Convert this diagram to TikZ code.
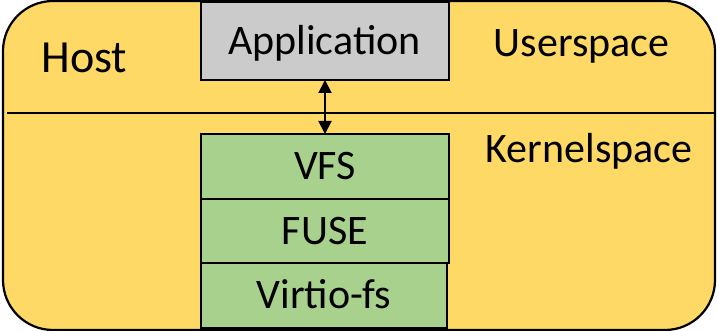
\documentclass[tikz,border=0pt]{standalone}
\usepackage{fontspec}
\setmainfont{Carlito}
\usetikzlibrary{arrows.meta}
\definecolor{hostyellow}{HTML}{FFD966}
\definecolor{appgray}{HTML}{CBCBCB}
\definecolor{layergreen}{HTML}{A9D18E}
\tikzset{
  layer/.style={draw=black, line width=2pt, fill=layergreen},
  lbl/.style={anchor=base, inner sep=0pt, font=\fontsize{42}{42}\selectfont},
}
\begin{document}
\begin{tikzpicture}[x=1pt, y=-1pt]
\useasboundingbox (0,0) rectangle (717,331);
% host frame
\draw[line width=2.2pt, fill=hostyellow, rounded corners=50pt] (3,1) rectangle (715,330);
% user/kernel boundary
\draw[line width=2pt] (7,113) -- (715,113);
% application box
\draw[line width=2pt, fill=appgray] (201,2) rectangle (449,80);
\node[lbl] (app) at (324.5,55) {Application};
\coordinate (appbot) at (325,80);
% kernel layers
\draw[layer] (201,134) rectangle (449,199);
\draw[layer] (201,199) rectangle (449,263);
\draw[layer] (201,263) rectangle (447,328);
\coordinate (vfstop) at (325,134);
\node[lbl] (vfs) at (325,180) {VFS};
\node[lbl] (fuse) at (325,244) {FUSE};
\node[lbl] (virtio) at (324,308) {Virtio-fs};
% labels
\node[lbl, font=\fontsize{46}{46}\selectfont] (host) at (84.5,73) {Host};
\node[lbl] (user) at (581.5,57) {Userspace};
\node[lbl] (kernel) at (589,163) {Kernelspace};
% syscall path
\draw[line width=2pt, {Triangle[length=13pt,width=13pt]}-{Triangle[length=13pt,width=13pt]}] (appbot) -- (vfstop);
\end{tikzpicture}
\end{document}
